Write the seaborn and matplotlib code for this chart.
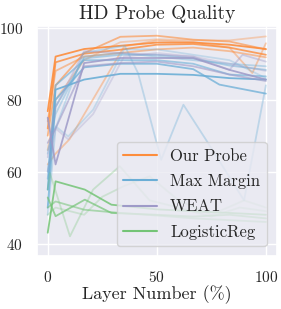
import matplotlib
matplotlib.use("Agg")
import matplotlib.pyplot as plt
from matplotlib.lines import Line2D
import seaborn as sns

sns.set_theme(style="darkgrid")
plt.rcParams['font.family'] = ['cmr10', 'DejaVu Serif']
plt.rcParams['mathtext.fontset'] = 'cm'
plt.rcParams['axes.formatter.use_mathtext'] = True

methods = ['Our Probe', 'Max Margin', 'WEAT', 'LogisticReg']
colors = ['#fd8d3c', '#6baed6', '#9e9ac8', '#74c476']

# layer grid (percent of depth) shared by most runs
grid = [0, 3.6, 16.7, 33.3, 50, 66.7, 83.3, 100]

# Our Probe runs
probe_x = [grid, grid, grid, grid,
           [0, 3.6, 10, 35, 50, 66.7, 83.3, 93.8, 100],
           grid]
probe_y = [[76.8, 92.0, 94.1, 95.0, 95.9, 95.9, 95.3, 94.1],
           [72.0, 90.4, 92.8, 93.9, 95.3, 95.5, 94.5, 92.5],
           [70.0, 84.0, 93.0, 97.5, 97.8, 96.7, 96.2, 94.0],
           [74.0, 88.0, 92.0, 93.0, 94.0, 94.5, 93.5, 91.8],
           [62.0, 65.0, 69.0, 94.8, 96.5, 96.0, 94.5, 87.4, 95.7],
           [66.0, 80.0, 91.0, 96.0, 96.8, 96.5, 96.5, 97.6]]
probe_alpha = [0.9, 0.8, 0.6, 0.5, 0.4, 0.35]

# Max Margin runs
margin_x = [grid,
            [0, 3.6, 16.7, 33.3, 50, 66.7, 78.7, 100],
            [0, 3.6, 16.3, 35.3, 41.4, 52, 62.2, 72.5, 90, 100],
            grid, grid,
            [0, 3.6, 9.4, 20.8, 35, 50, 66.7, 83.3, 100],
            grid]
margin_y = [[55.0, 82.8, 85.6, 87.2, 87.2, 86.9, 86.0, 85.6],
            [50.0, 80.0, 89.0, 90.0, 90.0, 88.5, 84.2, 81.7],
            [48.0, 72.0, 93.0, 95.0, 87.4, 63.3, 78.6, 68.9, 52.0, 84.0],
            [60.0, 78.0, 91.5, 92.5, 92.5, 91.5, 89.5, 88.3],
            [65.0, 76.0, 92.0, 93.0, 92.0, 91.0, 90.0, 89.3],
            [66.0, 72.6, 69.8, 77.2, 94.0, 94.0, 92.5, 91.0, 86.0],
            [58.0, 84.0, 91.0, 91.0, 91.0, 90.0, 87.0, 86.5]]
margin_alpha = [0.9, 0.75, 0.35, 0.5, 0.4, 0.3, 0.6]

# WEAT runs
weat_x = [grid, grid,
          [0, 3.6, 16.7, 33.3, 50, 66.7, 83.3, 89.3, 100],
          [0, 3.6, 9.4, 20.8, 35, 50, 66.7, 83.3, 100]]
weat_y = [[75.0, 62.0, 90.2, 91.6, 91.6, 91.6, 88.3, 85.6],
          [68.0, 72.0, 89.3, 90.2, 90.6, 89.3, 87.0, 85.2],
          [64.0, 78.0, 93.5, 93.0, 92.5, 92.0, 88.3, 92.5, 90.6],
          [60.0, 72.0, 69.0, 76.0, 92.0, 93.0, 92.0, 90.0, 88.0]]
weat_alpha = [0.85, 0.6, 0.4, 0.3]

# LogisticReg runs
logreg_x = [[0, 3.6, 17, 29.2, 50, 66.7, 83.3, 100],
            [0, 3.6, 17, 29.2, 50, 66.7, 83.3, 100],
            grid,
            [0, 1, 10.2, 20.8, 33, 46.7, 60, 75, 88, 100],
            [0, 3.6, 16.7, 25, 35, 46.7, 60, 75, 90, 100]]
logreg_y = [[43.0, 57.3, 55.0, 50.8, 49.5, 49.0, 48.5, 48.0],
            [52.8, 47.6, 52.2, 48.5, 48.0, 47.5, 48.0, 47.0],
            [50.0, 51.7, 49.4, 48.5, 47.8, 47.0, 46.5, 46.0],
            [55.0, 59.6, 42.0, 55.0, 61.5, 52.0, 50.0, 47.5, 50.0, 49.0],
            [48.0, 50.0, 48.0, 53.0, 56.0, 58.7, 52.0, 48.0, 52.0, 50.0]]
logreg_alpha = [0.85, 0.7, 0.55, 0.3, 0.25]

runs = [(probe_x, probe_y, probe_alpha),
        (margin_x, margin_y, margin_alpha),
        (weat_x, weat_y, weat_alpha),
        (logreg_x, logreg_y, logreg_alpha)]

fig, ax = plt.subplots(figsize=(2.81, 3.09), dpi=100)
fig.subplots_adjust(left=0.131, right=0.985, bottom=0.17, top=0.917)

# draw the light runs first so the bold ones sit on top
for (xs, ys, alphas), color in zip(runs, colors):
    for x, y, a in sorted(zip(xs, ys, alphas), key=lambda r: r[2]):
        sns.lineplot(x=x, y=y, color=color, alpha=a, linewidth=1.3, ax=ax,
                     sort=False, estimator=None)

ax.set_xlim(-5, 105)
ax.set_ylim(36.4, 100.6)
ax.set_xticks([0, 50, 100])
ax.set_yticks([40, 60, 80, 100])
ax.tick_params(axis='y', labelsize=11, pad=4)
ax.tick_params(axis='x', labelsize=11, pad=4)
ax.set_title('HD Probe Quality', fontsize=14, pad=5)
ax.set_xlabel('Layer Number (%)', fontsize=13, labelpad=0)
ax.set_ylabel('')

handles = [Line2D([0], [0], color=c, lw=1.5) for c in colors]
ax.legend(handles=handles, labels=methods, loc='lower right', fontsize=12,
          handlelength=2.0, labelspacing=0.6, borderaxespad=0.6)

plt.savefig('out.png', dpi=100)
